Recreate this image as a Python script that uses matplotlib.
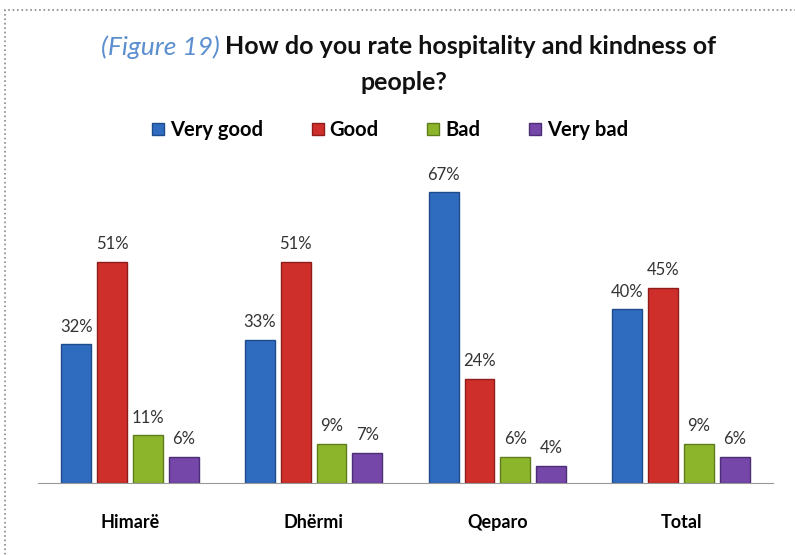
import matplotlib.pyplot as plt
import numpy as np
from matplotlib.patches import Rectangle

plt.rcParams['font.family'] = ['Lato', 'DejaVu Sans']

categories = ["Himarë", "Dhërmi", "Qeparo", "Total"]
series = ["Very good", "Good", "Bad", "Very bad"]
very_good = [32, 33, 67, 40]
good = [51, 51, 24, 45]
bad = [11, 9, 6, 9]
very_bad = [6, 7, 4, 6]

colors = ["#2f6cbf", "#cf2f2b", "#8db52c", "#7447a8"]
edges = ["#1d4a8a", "#8e1c1a", "#5e7d1a", "#4d2d75"]

fig = plt.figure(figsize=(7.95, 5.55), dpi=100)
ax = fig.add_axes([38 / 795, 72 / 555, 735 / 795, 0.62])

x = np.arange(len(categories))
w = 0.162
step = 0.195
data = [very_good, good, bad, very_bad]
handles = []
for i, vals in enumerate(data):
    pos = x + (i - 1.5) * step
    bars = ax.bar(pos, vals, w, color=colors[i], edgecolor=edges[i],
                  linewidth=1.0, label=series[i], zorder=2)
    handles.append(bars)
    for b, v in zip(bars, vals):
        ax.text(b.get_x() + b.get_width() / 2, v + 2.2, f"{v}%",
                ha="center", va="bottom", fontsize=12, color="#333333")

ax.set_xlim(-0.5, 3.5)
ax.set_ylim(0, 344 / 4.34)
ax.set_yticks([])
ax.set_xticks(x)
ax.set_xticklabels(categories, fontsize=13, fontweight="bold")
ax.tick_params(axis="x", length=0, pad=22)
for s in ["top", "right", "left"]:
    ax.spines[s].set_visible(False)
ax.spines["bottom"].set_color("#999999")

fig.legend(handles=handles, labels=series, loc="center",
           bbox_to_anchor=(390 / 795, 1 - 130 / 555), ncol=4,
           frameon=False, handlelength=0.6, handleheight=0.6,
           columnspacing=2.4, handletextpad=0.3,
           prop={"weight": "bold", "size": 14.5})

# title in two styles
fig.text(220 / 795, 1 - 47 / 555, "(Figure 19)", ha="right", va="center",
         fontsize=19, style="italic", color="#5b8fd0")
fig.text(225 / 795, 1 - 47 / 555, "How do you rate hospitality and kindness of",
         ha="left", va="center", fontsize=18, fontweight="bold", color="#111111")
fig.text(404 / 795, 1 - 82 / 555, "people?", ha="center", va="center",
         fontsize=18, fontweight="bold", color="#111111")

fig.patches.append(Rectangle((5 / 795, -0.1), 1.2, 1.1 - 10 / 555, transform=fig.transFigure,
                             fill=False, edgecolor="#888888", linestyle=":", linewidth=1.2))

fig.savefig("out.png", dpi=100)
